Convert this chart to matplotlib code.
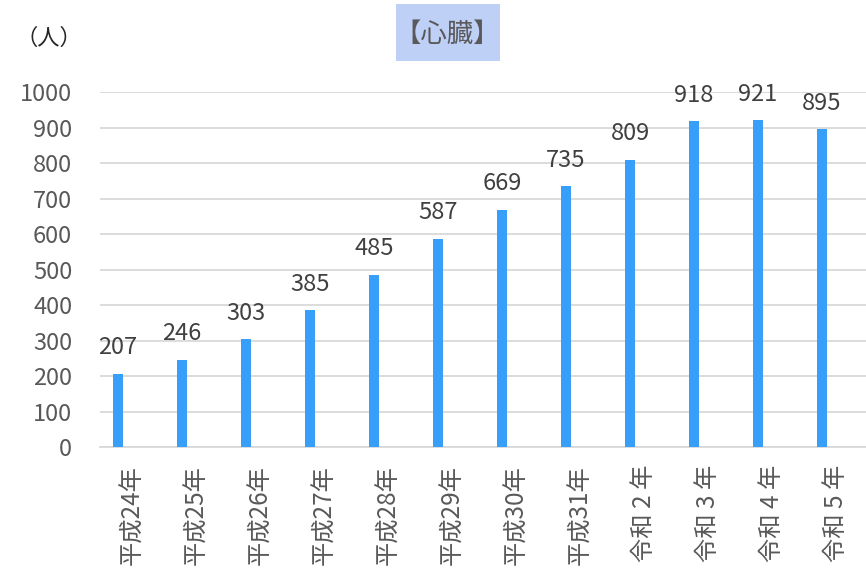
import matplotlib.pyplot as plt
from matplotlib.patches import Rectangle
from matplotlib.transforms import ScaledTranslation

plt.rcParams['font.family'] = ['Noto Sans CJK JP', 'DejaVu Sans']

years = ['平成24年', '平成25年', '平成26年', '平成27年', '平成28年', '平成29年',
         '平成30年', '平成31年', '令和 2 年', '令和 3 年', '令和 4 年', '令和 5 年']
counts = [207, 246, 303, 385, 485, 587, 669, 735, 809, 918, 921, 895]
yticks = [0, 100, 200, 300, 400, 500, 600, 700, 800, 900, 1000]

text_col = '#595959'
grid_col = '#d9d9d9'

fig = plt.figure(figsize=(8.66, 5.75), dpi=100)
ax = fig.add_axes([0.1155, 0.2226, 0.8845, 0.6174])

x = range(len(years))
ax.bar(x, counts, width=0.17, color='#379ffa', zorder=3)
for xi, v in zip(x, counts):
    ax.text(xi, v + 55, str(v), ha='center', va='baseline', fontsize=17, color='#404040')

# first bar sits 18px in from the left edge, 64px per category
ax.set_xlim(-18 / 64, 11 + 44 / 64)
ax.set_ylim(0, 1000)
ax.set_yticks(yticks)
ax.set_yticklabels([str(t) for t in yticks], fontsize=17, color=text_col)
ax.set_xticks(list(x))
ax.set_xticklabels(years, rotation=90, fontsize=17.5, color=text_col, va='top')
ax.tick_params(axis='y', length=0, pad=20)
ax.tick_params(axis='x', length=0, pad=13)

# year labels sit a little right of the bars
shift = ScaledTranslation(0.14, 0, fig.dpi_scale_trans)
for lab in ax.get_xticklabels():
    lab.set_transform(lab.get_transform() + shift)

ax.yaxis.grid(True, color=grid_col, linewidth=1.3, zorder=0)
for s in ['top', 'right', 'left']:
    ax.spines[s].set_visible(False)
ax.spines['bottom'].set_color(grid_col)
ax.spines['bottom'].set_linewidth(1.3)

fig.text(0.0566, 0.934, '（人）', ha='center', va='center', fontsize=16, color='#262626')

# title with shaded box
fig.patches.append(Rectangle((0.4573, 0.8939), 0.1201, 0.0991, transform=fig.transFigure,
                             facecolor='#bfd0f7', edgecolor='none'))
fig.text(0.5162, 0.940, '【心臓】', ha='center', va='center', fontsize=19, color=text_col)

fig.savefig('out.png', dpi=100)
